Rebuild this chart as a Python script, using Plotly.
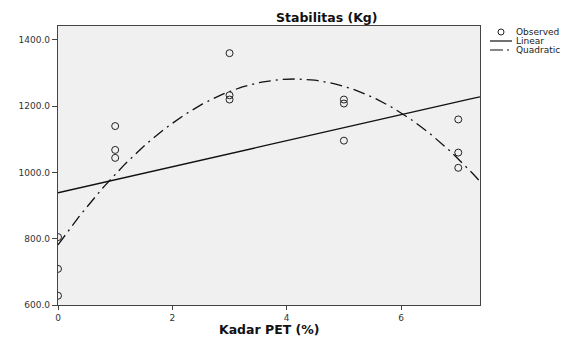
import numpy as np
import plotly.graph_objects as go

# Observed data (Kadar PET %, Stabilitas Kg)
kadar_pet = [0, 0, 0, 1, 1, 1, 3, 3, 3, 5, 5, 5, 7, 7, 7]
stabilitas = [628, 709, 805, 1140, 1068, 1044, 1360, 1233, 1220, 1220, 1208, 1096, 1160, 1060, 1014]
x_ticks = [0, 2, 4, 6]
y_ticks = [600, 800, 1000, 1200, 1400]
y_tick_labels = ["600.0", "800.0", "1000.0", "1200.0", "1400.0"]
legend_labels = ["Observed", "Linear", "Quadratic"]
x_max = 7.38

xs = np.array(kadar_pet, dtype=float)
ys = np.array(stabilitas, dtype=float)
lin = np.polyfit(xs, ys, 1)
quad = np.polyfit(xs, ys, 2)
xf = np.linspace(0, x_max, 200)

W, H = 567, 338
L, R, T, B = 58, 87, 26, 33
pw, ph = W - L - R, H - T - B


def px(x):
    return (x - L) / pw


def py(y):
    return (H - B - y) / ph


FONT = "DejaVu Sans, Verdana, sans-serif"
DASHDOT = "12px,5px,2px,5px"

fig = go.Figure()
fig.add_trace(go.Scatter(x=kadar_pet, y=stabilitas, mode="markers", name="Observed",
                         marker=dict(symbol="circle-open", size=7, color="#222", line=dict(width=1)),
                         showlegend=False))
fig.add_trace(go.Scatter(x=xf, y=np.polyval(lin, xf), mode="lines", name="Linear",
                         line=dict(color="#111", width=1.3), showlegend=False))
fig.add_trace(go.Scatter(x=xf, y=np.polyval(quad, xf), mode="lines", name="Quadratic",
                         line=dict(color="#111", width=1.3, dash=DASHDOT), showlegend=False))

axis_common = dict(showline=True, linecolor="#444", linewidth=1.2, mirror=True,
                   showgrid=False, zeroline=False, ticks="outside",
                   tickcolor="#444", tickfont=dict(family=FONT, size=9, color="#333"))

# legend drawn compactly like the original
rows_y = [32, 41, 50]
shapes = [
    dict(type="circle", xref="paper", yref="paper", x0=px(498), x1=px(504), y0=py(rows_y[0] + 3), y1=py(rows_y[0] - 3),
         line=dict(color="#222", width=1)),
    dict(type="line", xref="paper", yref="paper", x0=px(490), x1=px(512), y0=py(rows_y[1]), y1=py(rows_y[1]),
         line=dict(color="#111", width=1.2)),
    dict(type="line", xref="paper", yref="paper", x0=px(490), x1=px(512), y0=py(rows_y[2]), y1=py(rows_y[2]),
         line=dict(color="#111", width=1.2, dash="13px,4px,2px,4px")),
]
annotations = [dict(text=lab, x=px(514), y=py(yy), xref="paper", yref="paper", xanchor="left",
                    yanchor="middle", showarrow=False, font=dict(family=FONT, size=9, color="#222"))
               for lab, yy in zip(legend_labels, rows_y)]
annotations.append(dict(text="<b>Kadar PET (%)</b>", x=0.5, xref="paper", y=py(329), yref="paper",
                        yanchor="middle", showarrow=False, font=dict(family=FONT, size=12.5, color="#111")))
annotations.append(dict(text="<b>Stabilitas (Kg)</b>", x=px(326), xref="paper", y=py(17), yref="paper",
                        yanchor="middle", showarrow=False, font=dict(family=FONT, size=12.5, color="#111")))

fig.update_layout(
    width=W, height=H,
    margin=dict(l=L, r=R, t=T, b=B, autoexpand=False),
    paper_bgcolor="white", plot_bgcolor="#F0F0F0",
    showlegend=False,
    xaxis=dict(range=[0, x_max], tickvals=x_ticks, ticklen=4, **axis_common),
    yaxis=dict(range=[600, 1442], tickvals=y_ticks, ticktext=y_tick_labels, ticklen=5, **axis_common),
    shapes=shapes,
    annotations=annotations,
)
fig.write_html("out.html", config={"displayModeBar": False},
               post_script="document.body.style.margin='0';document.body.style.overflow='hidden';")
